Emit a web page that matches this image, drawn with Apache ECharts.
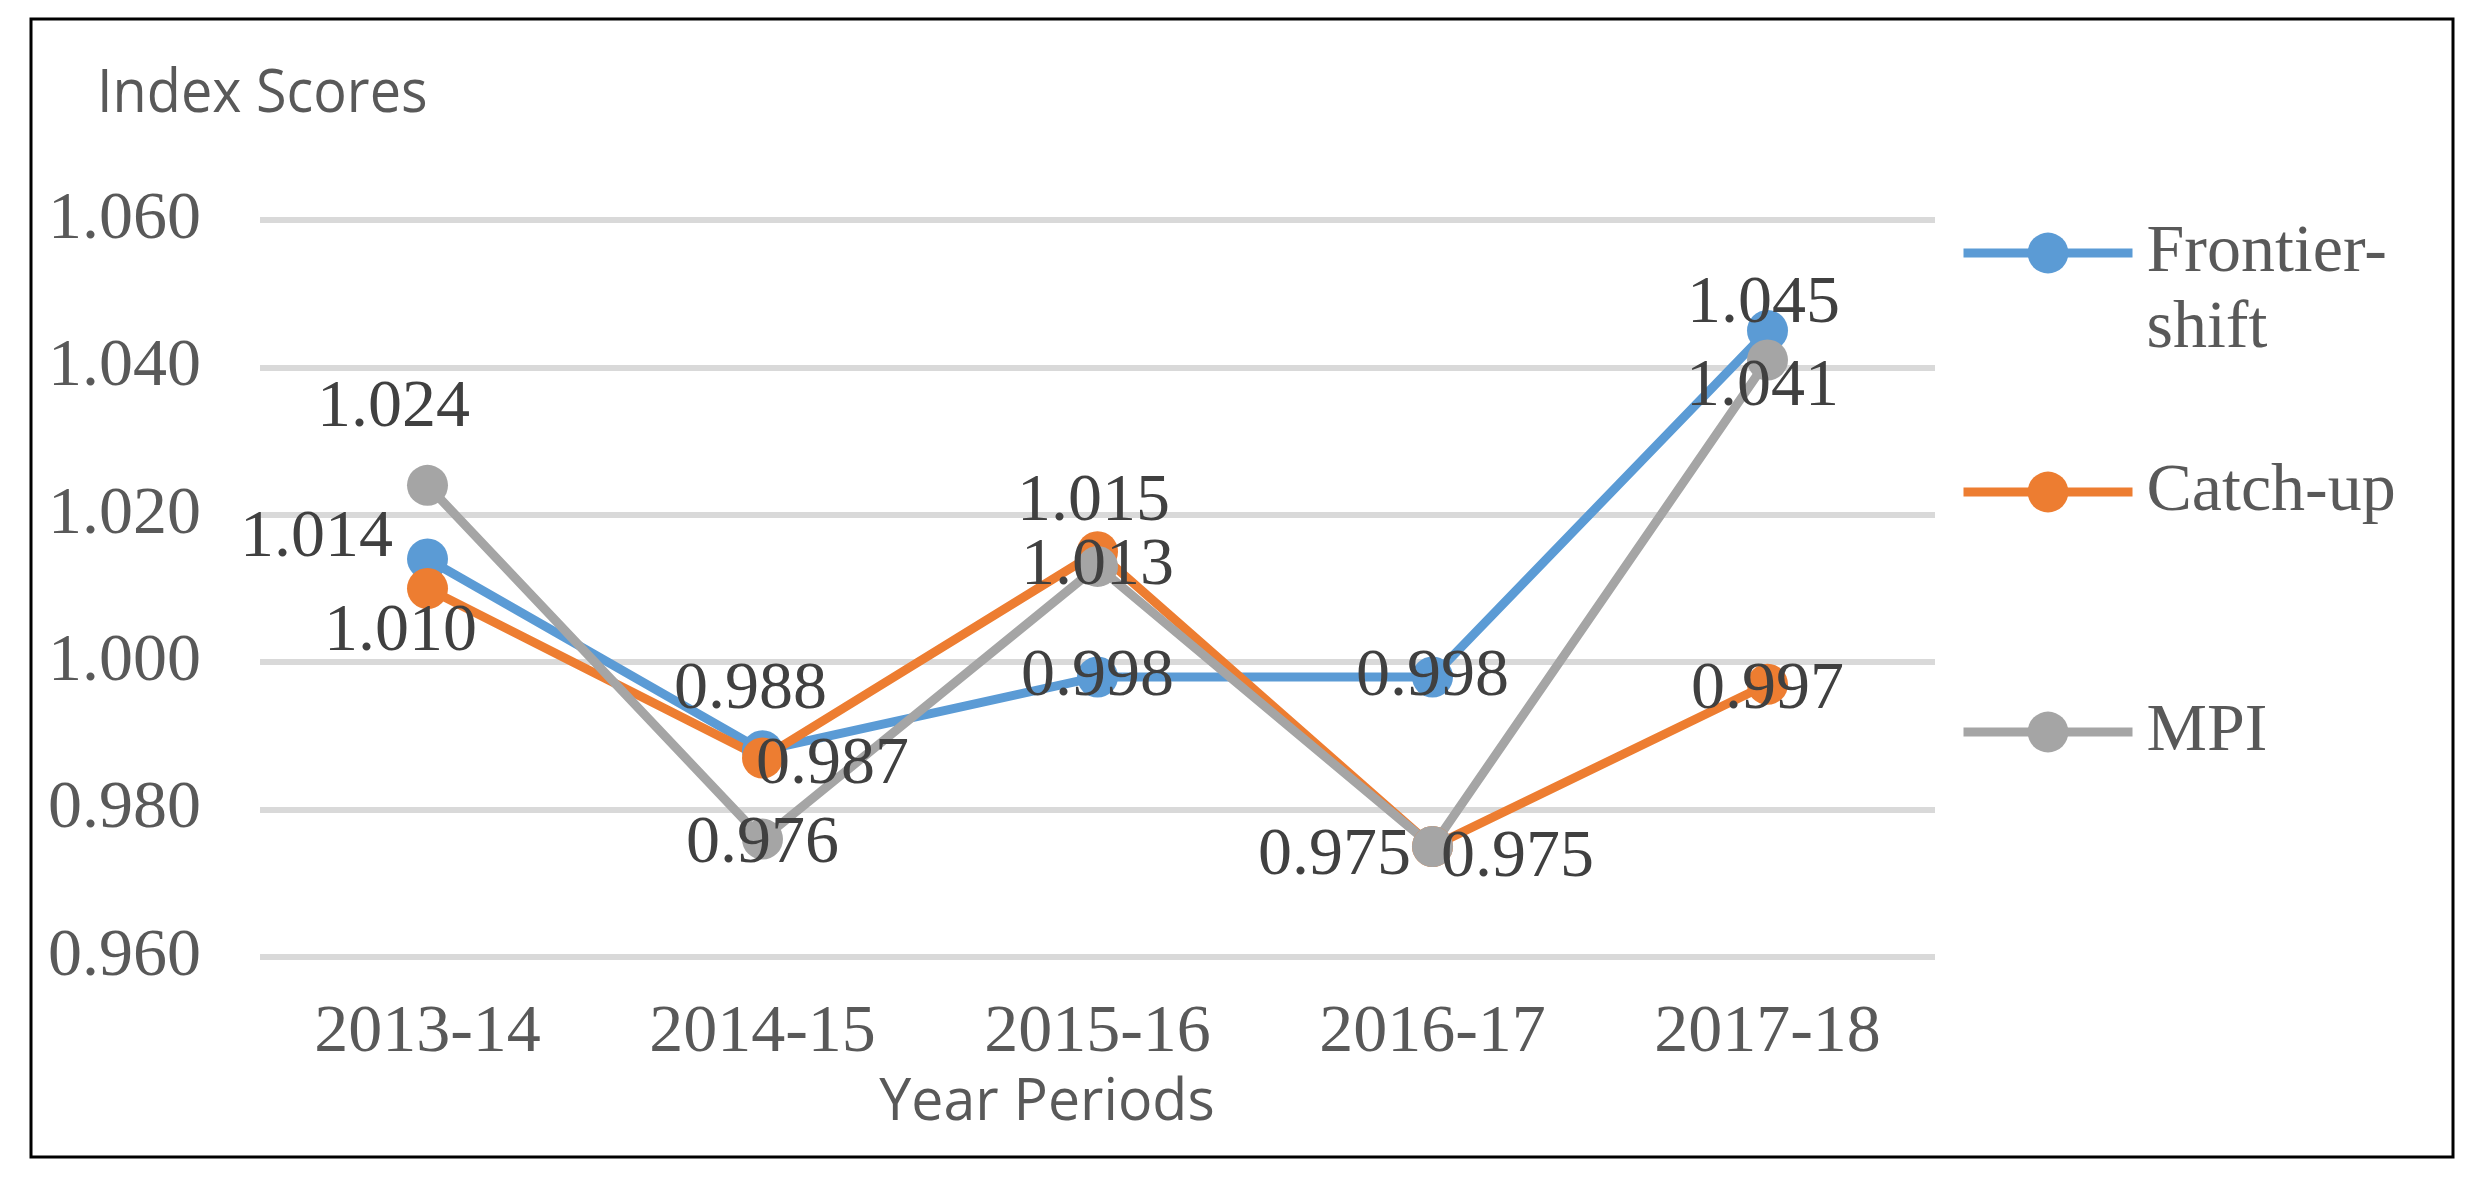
<!DOCTYPE html>
<html><head><meta charset="utf-8">
<script src="https://cdn.jsdelivr.net/npm/echarts@6/dist/echarts.min.js"></script>
<style>html,body{margin:0;padding:0;background:#fff}#c{width:2488px;height:1179px}</style>
</head><body><div id="c"></div>
<script>
// ---- data ----
const categories = ['2013-14', '2014-15', '2015-16', '2016-17', '2017-18'];
const frontierShift = [1.014, 0.988, 0.998, 0.998, 1.045];
const catchUp = [1.010, 0.987, 1.015, 0.975, 0.997];
const mpi = [1.024, 0.976, 1.013, 0.975, 1.041];
const seriesNames = ['Frontier-shift', 'Catch-up', 'MPI'];
const yMin = 0.96, yMax = 1.06, yStep = 0.02;
const yAxisTitle = 'Index Scores';
const xAxisTitle = 'Year Periods';

// ---- style config (label offsets from points, px) ----
const labelOffsets = [
  [[-111, -21], [-12, -60], [0, 0], [0, 0], [-4, -26]],
  [[-27, 44], [70, 7], [-4, -50], [-98, 10], [0, 6]],
  [[-34, -77], [0, 5], [0, 0], [85, 12], [-5, 27]]
];
const colors = ['#5B9BD5', '#ED7D31', '#A5A5A5'];
const serif = '"Liberation Serif", "Times New Roman", serif';
const sans = '"Open Sans", "Noto Sans", sans-serif';
const seriesData = [frontierShift, catchUp, mpi];
const LW = 9;

const chart = echarts.init(document.getElementById('c'));

const series = seriesData.map((arr, si) => ({
  name: seriesNames[si],
  type: 'line',
  data: arr.map((v, i) => ({
    value: v,
    label: { offset: labelOffsets[si][i] }
  })),
  symbol: 'circle',
  symbolSize: 41,
  lineStyle: { width: LW, color: colors[si] },
  itemStyle: { color: colors[si] },
  emphasis: { disabled: true },
  label: {
    show: true,
    position: 'inside',
    fontFamily: serif,
    fontSize: 68,
    color: '#404040',
    formatter: p => p.value.toFixed(3)
  },
  animation: false
}));

const legendTops = [139, 454, 694];
const legends = seriesNames.map((n, i) => ({
  data: [n],
  orient: 'vertical',
  left: 1959,
  top: legendTops[i],
  padding: 0,
  itemWidth: 169,
  itemHeight: 51,
  selectedMode: false,
  lineStyle: { width: LW, color: colors[i] },
  itemStyle: { color: colors[i] },
  formatter: name => name === 'Frontier-shift' ? '\nFrontier-\nshift' : name,
  textStyle: {
    fontFamily: serif,
    fontSize: 68,
    lineHeight: 76,
    color: '#595959',
    padding: [0, 0, 0, 9]
  }
}));

chart.setOption({
  backgroundColor: '#fff',
  animation: false,
  color: colors,
  grid: { left: 260, right: 553, top: 220, bottom: 222, containLabel: false },
  legend: legends,
  xAxis: {
    type: 'category',
    data: categories,
    boundaryGap: true,
    axisLine: { show: false },
    axisTick: { show: false },
    axisLabel: { margin: 43, fontFamily: serif, fontSize: 68, lineHeight: 66, color: '#595959' }
  },
  yAxis: {
    type: 'value',
    min: yMin, max: yMax, interval: yStep,
    axisLine: { show: false },
    axisTick: { show: false },
    splitLine: { lineStyle: { color: '#D9D9D9', width: 6 } },
    axisLabel: { margin: 59, fontFamily: serif, fontSize: 68, color: '#595959', formatter: v => v.toFixed(3) }
  },
  graphic: [
    { type: 'rect', shape: { x: 31, y: 19, width: 2422, height: 1138 },
      style: { fill: 'none', stroke: '#000', lineWidth: 3 }, z: 100 },
    { type: 'text', x: 97, y: 95,
      style: { text: yAxisTitle, fontFamily: sans, fontSize: 60, fill: '#595959', textAlign: 'left', textVerticalAlign: 'middle' },
      scaleX: 0.93 },
    { type: 'text', x: 1047, y: 1103,
      style: { text: xAxisTitle, fontFamily: sans, fontSize: 59, fill: '#595959', textAlign: 'center', textVerticalAlign: 'middle' },
      scaleX: 0.97 }
  ],
  series: series
});
</script></body></html>
